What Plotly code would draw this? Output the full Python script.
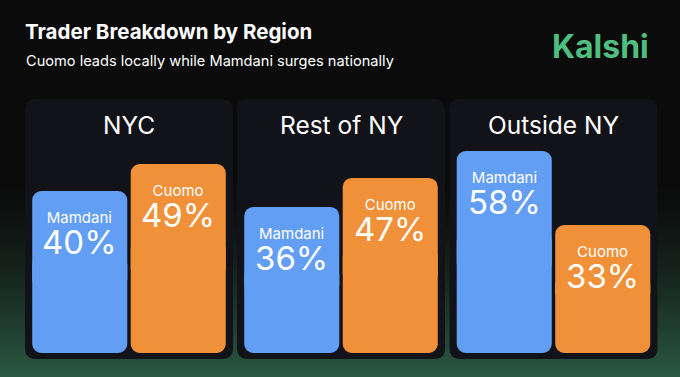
import plotly.graph_objects as go

# ---------------- data ----------------
regions = ["NYC", "Rest of NY", "Outside NY"]
candidates = ["Mamdani", "Cuomo"]
mamdani = [40, 36, 58]
cuomo = [49, 47, 33]
title_text = "Trader Breakdown by Region"
subtitle_text = "Cuomo leads locally while Mamdani surges nationally"
brand_text = "Kalshi"

# ---------------- style / layout constants ----------------
W, H = 680, 377
BLUE = "#639ef5"
ORANGE = "#f09038"
PANEL = "#121318"
GREEN = "#4fbf7f"
BG_TOP = (11, 11, 11)
BG_BOTTOM = (43, 90, 68)
Y_RANGES = [(-14.0, 70.67), (-19.4, 76.96), (-10.24, 75.57)]
PLOT_LEFT = [30.5, 242.5, 455.0]
PLOT_W = 197.0
PLOT_TOP, PLOT_BOTTOM = 99.0, 353.0
PANEL_PAD, PANEL_BOTTOM = 5.5, 359.0


def px(x):
    return x / W


def py(y):
    return 1 - y / H


def rounded_path(x0, y0, x1, y1, r):
    rx, ry = r / W, r / H
    X0, X1 = px(x0), px(x1)
    Yt, Yb = py(y0), py(y1)
    return (f"M {X0+rx},{Yt} L {X1-rx},{Yt} Q {X1},{Yt} {X1},{Yt-ry} "
            f"L {X1},{Yb+ry} Q {X1},{Yb} {X1-rx},{Yb} L {X0+rx},{Yb} "
            f"Q {X0},{Yb} {X0},{Yb+ry} L {X0},{Yt-ry} Q {X0},{Yt} {X0+rx},{Yt} Z")


fig = go.Figure()
shapes = []
annotations = []

# background gradient
g0, g1 = 180, H
step = 2
y = g0
while y < g1:
    t = ((y - g0) / (g1 - g0)) ** 1.5
    c = tuple(int(round(BG_TOP[k] + t * (BG_BOTTOM[k] - BG_TOP[k]))) for k in range(3))
    shapes.append(dict(type="rect", xref="paper", yref="paper", x0=0, x1=1,
                       y0=py(min(y + step + 0.5, H)), y1=py(y), fillcolor=f"rgb{c}",
                       line=dict(width=0), layer="below"))
    y += step

layout_axes = {}
for i, region in enumerate(regions):
    xa = "x" if i == 0 else f"x{i+1}"
    ya = "y" if i == 0 else f"y{i+1}"
    lo, hi = Y_RANGES[i]
    left = PLOT_LEFT[i]
    right = left + PLOT_W
    # panel background
    shapes.append(dict(type="path", xref="paper", yref="paper",
                       path=rounded_path(left - PANEL_PAD, PLOT_TOP, right + PANEL_PAD, PANEL_BOTTOM, 11),
                       fillcolor=PANEL, line=dict(width=0), layer="below"))
    # panel title
    annotations.append(dict(xref="paper", yref="paper", x=px((left + right) / 2), y=py(125.5),
                            text=region, showarrow=False, xanchor="center", yanchor="middle",
                            font=dict(family="Inter", size=24.5, color="white")))
    vals = [mamdani[i], cuomo[i]]
    for cand, v, col in zip(candidates, vals, [BLUE, ORANGE]):
        h = v - lo
        up_base = lo + 0.4 * h
        dn_base = lo + 0.6 * h
        # upper half (rounded top)
        fig.add_trace(go.Bar(x=[cand], y=[v - up_base], base=[up_base], xaxis=xa, yaxis=ya,
                             marker=dict(color=col, cornerradius=9, line=dict(width=0)),
                             hoverinfo="skip", showlegend=False))
        # lower half (rounded bottom)
        fig.add_trace(go.Bar(x=[cand], y=[lo - dn_base], base=[dn_base], xaxis=xa, yaxis=ya,
                             marker=dict(color=col, cornerradius=9, line=dict(width=0)),
                             hoverinfo="skip", showlegend=False))
        label = (f"<span style='font-size:15px'>{cand}</span><br>"
                 f"<span style='font-size:33px'>{v}%</span>")
        annotations.append(dict(xref=xa, yref=ya, x=cand, y=v, yshift=-15, text=label,
                                showarrow=False, xanchor="center", yanchor="top", align="center",
                                font=dict(family="Inter", size=24, color="white")))
    key = "" if i == 0 else str(i + 1)
    layout_axes[f"xaxis{key}"] = dict(domain=[px(left), px(right)], anchor=ya,
                                      categoryorder="array", categoryarray=candidates,
                                      showgrid=False, zeroline=False, showticklabels=False,
                                      showline=False, fixedrange=True)
    layout_axes[f"yaxis{key}"] = dict(domain=[py(PLOT_BOTTOM), py(PLOT_TOP)], anchor=xa,
                                      range=[lo, hi], showgrid=False, zeroline=False,
                                      showticklabels=False, showline=False, fixedrange=True)

# title, subtitle, brand
annotations.append(dict(xref="paper", yref="paper", x=px(23), y=py(32), text=f"<b>{title_text}</b>",
                        showarrow=False, xanchor="left", yanchor="middle",
                        font=dict(family="Inter", size=20.5, color="white")))
annotations.append(dict(xref="paper", yref="paper", x=px(24), y=py(61), text=subtitle_text,
                        showarrow=False, xanchor="left", yanchor="middle",
                        font=dict(family="Inter", size=14.6, color="white")))
annotations.append(dict(xref="paper", yref="paper", x=px(600.5), y=py(46.5), text=f"<b>{brand_text}</b>",
                        showarrow=False, xanchor="center", yanchor="middle",
                        font=dict(family="Inter", size=32, color=GREEN)))

fig.update_layout(width=W, height=H, autosize=False, margin=dict(l=0, r=0, t=0, b=0),
                  paper_bgcolor="#0b0b0b", plot_bgcolor="rgba(0,0,0,0)",
                  barmode="overlay", bargap=0.035, showlegend=False,
                  shapes=shapes, annotations=annotations, **layout_axes)

fig.write_html("out.html", config={"displayModeBar": False},
               post_script="document.body.style.margin='0';document.body.style.overflow='hidden';")
